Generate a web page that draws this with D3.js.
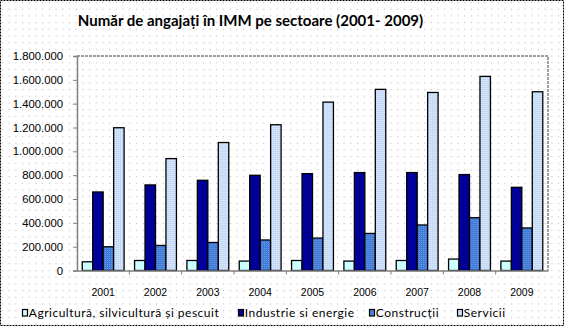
<!DOCTYPE html>
<html><head><meta charset="utf-8">
<script src="https://cdn.jsdelivr.net/npm/d3@7"></script>
<style>
html,body{margin:0;padding:0;background:#fff;}
svg{display:block;font-family:Lato,"Open Sans",sans-serif;}
</style></head>
<body>
<svg id="chart" width="565" height="327"></svg>
<script>
const years = ["2001","2002","2003","2004","2005","2006","2007","2008","2009"];
const seriesNames = ["Agricultură, silvicultură și pescuit","Industrie si energie","Construcții","Servicii"];
const agricultura = [73000,84000,84000,79000,84000,79000,84000,96000,79000];
const industrie = [659000,718000,757000,799000,813000,822000,822000,805000,698000];
const constructii = [199000,210000,235000,256000,272000,311000,382000,443000,357000];
const servicii = [1198000,939000,1074000,1223000,1413000,1520000,1494000,1629000,1500000];
const yTicks = [0,200000,400000,600000,800000,1000000,1200000,1400000,1600000,1800000];
const seriesValues = [agricultura, industrie, constructii, servicii];
const colors = ["#ccffff","#000099","#4f86dc","#cfe0fb"];

(function(){
const svg = d3.select("#chart");
const defs = svg.append("defs");
const bg = defs.append("pattern").attr("id","dots").attr("width",6.7).attr("height",6.7).attr("patternUnits","userSpaceOnUse");
bg.append("rect").attr("width",6.7).attr("height",6.7).attr("fill","#fff");
bg.append("rect").attr("x",2).attr("y",2).attr("width",1).attr("height",1).attr("fill","#b4b4b4");
const p2 = defs.append("pattern").attr("id","pc").attr("width",2).attr("height",2).attr("patternUnits","userSpaceOnUse");
p2.append("rect").attr("width",2).attr("height",2).attr("fill","#3f7ad8");
p2.append("rect").attr("width",1).attr("height",1).attr("fill","#6d9be6");
const p3 = defs.append("pattern").attr("id","ps").attr("width",2).attr("height",2).attr("patternUnits","userSpaceOnUse");
p3.append("rect").attr("width",2).attr("height",2).attr("fill","#c4d8f8");
p3.append("rect").attr("width",1).attr("height",1).attr("fill","#e4eefd");
const fills = [colors[0], colors[1], "url(#pc)", "url(#ps)"];

svg.append("rect").attr("width",565).attr("height",327).attr("fill","url(#dots)");
svg.append("rect").attr("x",0.5).attr("y",0.5).attr("width",563).attr("height",325)
  .attr("fill","none").attr("stroke","#000").attr("stroke-dasharray","2,1");

const pl = 77, pr = 548, pt = 56, pb = 270.5;
const x = d3.scaleBand().domain(years).range([pl,pr]).padding(0);
const inner = d3.scaleBand().domain(d3.range(4)).range([0, x.bandwidth()]).paddingOuter(0.5).paddingInner(0);
const y = d3.scaleLinear().domain([0,1800000]).range([pb, pt]);

svg.append("text").attr("x",250.5).attr("y",26).attr("text-anchor","middle")
  .attr("font-size",15).attr("font-weight","bold").attr("fill","#000")
  .text("Număr de angajați în IMM pe sectoare (2001- 2009)");

svg.append("path").attr("d",`M${pl},${pt}H${pr}V${pb}`)
  .attr("fill","none").attr("stroke","#808080").attr("stroke-width",1.5).attr("stroke-dasharray","3,1");

const fmt = v => d3.format(",")(v).replace(/,/g,".");
const yAxis = svg.append("g").attr("transform",`translate(${pl},0)`)
  .call(d3.axisLeft(y).tickValues(yTicks).tickFormat(fmt).tickSize(4).tickPadding(10));
yAxis.select(".domain").attr("stroke","#808080").attr("stroke-width",1.5);
yAxis.selectAll(".tick line").attr("stroke","#808080");
yAxis.selectAll("text").attr("font-size",11.3).attr("fill","#000");

const groups = svg.append("g").selectAll("g").data(years).join("g")
  .attr("transform",d=>`translate(${x(d)},0)`);
groups.each(function(yr,i){
  const g = d3.select(this);
  seriesValues.forEach((vals,s)=>{
    g.append("rect").attr("x",inner(s)).attr("y",y(vals[i]))
      .attr("width",inner.bandwidth()).attr("height",pb-y(vals[i]))
      .attr("fill",fills[s]).attr("stroke","#000").attr("stroke-width",1.3);
  });
});

const xAxis = svg.append("g").attr("transform",`translate(0,${pb})`)
  .call(d3.axisBottom(x).tickSize(0).tickPadding(0));
xAxis.select(".domain").attr("stroke","#808080").attr("stroke-width",1.5);
xAxis.selectAll("text").attr("font-size",10.5).attr("fill","#000").attr("dy",null).attr("y",25.5);
svg.append("g").selectAll("line").data(years.slice(1)).join("line")
  .attr("x1",d=>x(d)).attr("x2",d=>x(d)).attr("y1",pb).attr("y2",pb+4)
  .attr("stroke","#808080");

const legX = [22, 238, 369, 457];
const leg = svg.append("g").selectAll("g").data(seriesNames).join("g")
  .attr("transform",(d,i)=>`translate(${legX[i]},308)`);
leg.append("rect").attr("x",0.5).attr("y",1.5).attr("width",5).attr("height",6.5)
  .attr("fill",(d,i)=>fills[i]).attr("stroke","#000").attr("stroke-width",1.2);
leg.append("text").attr("x",6.8).attr("y",8.5).attr("font-size",12).attr("letter-spacing",0.5)
  .attr("fill","#000").text(d=>d);
})();
</script>
</body></html>
